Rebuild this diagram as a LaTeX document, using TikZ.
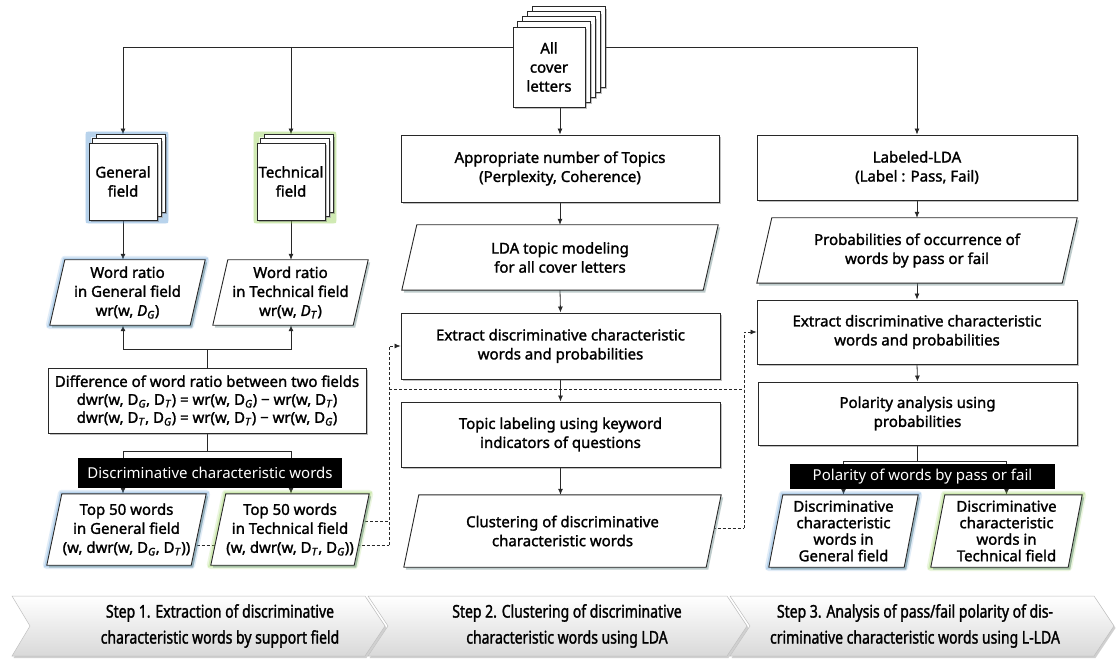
\documentclass[tikz,border=0pt]{standalone}
\usepackage{fontspec}
\setmainfont{Noto Sans}[BoldFont={Noto Sans}, BoldFeatures={FakeBold=1.6}, BoldItalicFont={Noto Sans Italic}, BoldItalicFeatures={FakeBold=1.6}]
\newfontfamily\condfont{Noto Sans}[FakeStretch=0.8, BoldFont={Noto Sans}, BoldFeatures={FakeStretch=0.8, FakeBold=1.6}]
\usetikzlibrary{arrows.meta,shadows,calc}
\pgfdeclarelayer{back}
\pgfdeclarelayer{conn}
\pgfdeclarelayer{glow}
\pgfdeclarelayer{bg}
\pgfsetlayers{back,conn,glow,bg,main}
\definecolor{glowblue}{RGB}{91,155,213}
\definecolor{glowgreen}{RGB}{146,208,80}
\definecolor{shteal}{RGB}{110,140,140}
\definecolor{edge}{RGB}{40,40,40}
\newcommand{\mydg}{D\textsubscript{\textit{G}}}
\newcommand{\mydt}{D\textsubscript{\textit{T}}}
\newcommand{\plgshape}[3]{\path[#1] (#2.south west) -- ([xshift=#3]#2.north west) -- (#2.north east) -- ([xshift=-#3]#2.south east) -- cycle;}
\tikzset{
 every node/.style={font=\fontsize{15}{19}\selectfont\bfseries, align=center, inner sep=0pt},
 rbox/.style={draw=edge, line width=0.9pt, fill=white, drop shadow={shadow xshift=2pt, shadow yshift=-2pt, opacity=0.35, fill=black!70}},
 pshape/.style={draw=edge, line width=0.9pt, fill=white, drop shadow={shadow xshift=2pt, shadow yshift=-2.5pt, opacity=0.45, fill=shteal}},
 glowB/.style={draw=glowblue, line width=8pt, draw opacity=0.18, line join=round, preaction={draw=glowblue, line width=4.5pt, draw opacity=0.3}},
 glowG/.style={draw=glowgreen, line width=8pt, draw opacity=0.18, line join=round, preaction={draw=glowgreen, line width=4.5pt, draw opacity=0.3}},
 arr/.style={draw=edge, line width=0.8pt, -{Latex[length=6pt,width=5pt]}},
 dsh/.style={draw=edge, line width=0.7pt, dash pattern=on 3pt off 2pt},
 dsharr/.style={dsh, -{Latex[length=6pt,width=5pt]}},
 bar/.style={fill=black, text=white, font=\fontsize{15}{17}\selectfont},
 chev/.style={draw=black!25, line width=0.5pt, top color=white, bottom color=black!15, drop shadow={shadow xshift=1.5pt, shadow yshift=-2pt, opacity=0.3, fill=black!60}},
 steptext/.style={font=\condfont\fontsize{17.5}{26}\selectfont\bfseries},
 outtext/.style={font=\fontsize{15}{16.5}\selectfont\bfseries},
}
\begin{document}
\begin{tikzpicture}[x=1pt,y=-1pt]
\useasboundingbox (0,0) rectangle (1116,660);
\begin{pgfonlayer}{back}\fill[white] (0,0) rectangle (1116,660);\end{pgfonlayer}

% ---------- top document stack
\node[rbox, minimum width=72pt, minimum height=80pt] (doc) at (549,67) {All\\cover\\letters};
\begin{pgfonlayer}{bg}
\foreach \k in {4,3,2,1}{\path[rbox] ([xshift=\k*5pt, yshift=\k*5pt]doc.south west) rectangle ([xshift=\k*5pt, yshift=\k*5pt]doc.north east);}
\end{pgfonlayer}

% ---------- left column
\node[rbox, minimum width=68pt, minimum height=77pt] (gen) at (123,181.5) {General\\field};
\node[rbox, minimum width=68pt, minimum height=77pt] (tec) at (291,181.5) {Technical\\field};
\begin{pgfonlayer}{bg}
\foreach \n in {gen,tec}{\foreach \k in {2,1}{\path[rbox] ([xshift=\k*4pt, yshift=\k*4pt]\n.south west) rectangle ([xshift=\k*4pt, yshift=\k*4pt]\n.north east);}}
\end{pgfonlayer}
\begin{pgfonlayer}{glow}
\path[glowB] (gen.south west) rectangle ([xshift=8pt,yshift=8pt]gen.north east);
\path[glowG] (tec.south west) rectangle ([xshift=8pt,yshift=8pt]tec.north east);
\end{pgfonlayer}

\node[minimum width=155pt, minimum height=65pt] (wrG) at (127.5,292.5) {Word ratio\\in General field\\wr(w, \textit{D}\textsubscript{\textit{G}})};
\node[minimum width=155pt, minimum height=65pt] (wrT) at (290.5,292.5) {Word ratio\\in Technical field\\wr(w, \textit{D}\textsubscript{\textit{T}})};

\node[rbox, minimum width=318pt, minimum height=65pt, font=\fontsize{15}{18}\selectfont\bfseries] (diff) at (207,400.5) {Difference of word ratio between two fields\\dwr(w, \mydg, \mydt) = wr(w, \mydg) − wr(w, \mydt)\\dwr(w, \mydt, \mydg) = wr(w, \mydt) − wr(w, \mydg)};
\node[bar, minimum width=264pt, minimum height=30pt] (dbar) at (210,473) {Discriminative characteristic words};

\node[minimum width=159pt, minimum height=71pt] (t50G) at (126.5,529.5) {Top 50 words\\in General field\\(w, dwr(w, \mydg, \mydt))};
\node[minimum width=158pt, minimum height=71pt] (t50T) at (290,529.5) {Top 50 words\\in Technical field\\(w, dwr(w, \mydt, \mydg))};

% ---------- middle column
\node[rbox, minimum width=318pt, minimum height=67pt] (app) at (560,168.5) {Appropriate number of Topics\\(Perplexity, Coherence)};
\node[minimum width=316pt, minimum height=65pt] (tm) at (560,257.5) {LDA topic modeling\\for all cover letters};
\node[rbox, minimum width=319pt, minimum height=66pt] (ext1) at (560.5,346) {Extract discriminative characteristic\\words and probabilities};
\node[rbox, minimum width=319pt, minimum height=65pt] (topic) at (560.5,434.5) {Topic labeling using keyword\\indicators of questions};
\node[minimum width=317pt, minimum height=72pt] (clus) at (562.5,531) {Clustering of discriminative\\characteristic words};

% ---------- right column
\node[rbox, minimum width=320pt, minimum height=65pt] (lab) at (917,167.5) {Labeled-LDA\\(Label : Pass, Fail)};
\node[minimum width=320pt, minimum height=65pt] (prob) at (917,250.5) {Probabilities of occurrence of\\words by pass or fail};
\node[rbox, minimum width=320pt, minimum height=64pt] (ext2) at (917,332) {Extract discriminative characteristic\\words and probabilities};
\node[rbox, minimum width=319pt, minimum height=63pt] (pol) at (917.5,413.5) {Polarity analysis using\\probabilities};
\node[bar, minimum width=265pt, minimum height=25pt] (pbar) at (922.5,476.5) {Polarity of words by pass or fail};
\node[outtext, minimum width=149pt, minimum height=72pt] (outG) at (843.5,531) {Discriminative\\characteristic\\words in\\General field};
\node[outtext, minimum width=151pt, minimum height=72pt] (outT) at (1006.5,531) {Discriminative\\characteristic\\words in\\Technical field};

% ---------- parallelogram outlines
\begin{pgfonlayer}{bg}
\plgshape{pshape}{wrG}{15pt}
\plgshape{pshape}{wrT}{15pt}
\plgshape{pshape}{t50G}{15pt}
\plgshape{pshape}{t50T}{15pt}
\plgshape{pshape}{tm}{15pt}
\plgshape{pshape}{clus}{15pt}
\plgshape{pshape}{prob}{15pt}
\plgshape{pshape}{outG}{14pt}
\plgshape{pshape}{outT}{14pt}
\end{pgfonlayer}
\begin{pgfonlayer}{glow}
\plgshape{glowB}{wrG}{15pt}
\plgshape{glowB}{t50G}{15pt}
\plgshape{glowG}{t50T}{15pt}
\plgshape{glowB}{outG}{14pt}
\plgshape{glowG}{outT}{14pt}
\end{pgfonlayer}

% ---------- step band
\begin{pgfonlayer}{bg}
\path[chev] (12,596) -- (365,596) -- (385,626) -- (365,656) -- (12,656) -- (30,626) -- cycle;
\path[chev] (368,596) -- (727,596) -- (747,626) -- (727,656) -- (368,656) -- (388,626) -- cycle;
\path[chev] (730,596) -- (1094,596) -- (1114,626) -- (1094,656) -- (730,656) -- (750,626) -- cycle;
\end{pgfonlayer}
\node[steptext] (s1) at (220,626) {Step 1. Extraction of discriminative\\characteristic words by support field};
\node[steptext] (s2) at (567,626) {Step 2. Clustering of discriminative\\characteristic words using LDA};
\node[steptext] (s3) at (915,626) {Step 3. Analysis of pass/fail polarity of dis-\\criminative characteristic words using L-LDA};

% ---------- connectors
\begin{pgfonlayer}{conn}
\coordinate (topbus) at ([yshift=20pt]doc.center);
\draw[arr] (topbus) -| ([yshift=8pt]gen.north);
\draw[arr] (topbus -| tec.north) -- ([yshift=8pt]tec.north);
\draw[arr] (topbus) -| (lab.north);
\draw[arr] (doc.south -| app.north) -- (app.north);
\draw[arr] (gen.south) -- (gen.south |- wrG.north);
\draw[arr] (tec.south) -- (tec.south |- wrT.north);
\coordinate (ub) at ([yshift=18pt]diff.north);
\draw[arr] (diff.north) |- (ub -| gen.south) -- (wrG.south -| gen.south);
\draw[arr] (diff.north) |- (ub -| tec.south) -- (wrT.south -| tec.south);
\coordinate (db) at ([yshift=-18pt]diff.south);
\draw[arr] (diff.south) |- (db -| gen.south) -- (t50G.north -| gen.south);
\draw[arr] (diff.south) |- (db -| tec.south) -- (t50T.north -| tec.south);
\draw[arr] (app.south) -- (tm.north);
\draw[arr] (tm.south) -- (ext1.north);
\draw[arr] (ext1.south) -- (topic.north);
\draw[arr] (topic.south) -- (clus.north -| topic.south);
\draw[arr] (lab.south) -- (prob.north);
\draw[arr] (prob.south) -- (ext2.north);
\draw[arr] (ext2.south) -- (pol.north);
\coordinate (pb) at ([yshift=-16pt]pol.south);
\draw[arr] (pol.south) |- (pb -| outG.north) -- (outG.north);
\draw[arr] (pol.south) |- (pb -| outT.north) -- (outT.north);
\coordinate (dL) at (389,545);
\coordinate (dLa) at (389,521);
\coordinate (dM) at (389,389);
\coordinate (dR) at (744,389);
\coordinate (dC) at (744,528);
\draw[dsh] (t50G.center |- dL) -- (dL);
\draw[dsh] (t50T.center |- dLa) -- (dLa);
\draw[dsharr] (dL) |- (ext1.west);
\draw[dsh] (dM) -- (dR);
\draw[dsh] (clus.center |- dC) -- (dC);
\draw[dsharr] (dC) |- (ext2.west);
\end{pgfonlayer}
\end{tikzpicture}
\end{document}
